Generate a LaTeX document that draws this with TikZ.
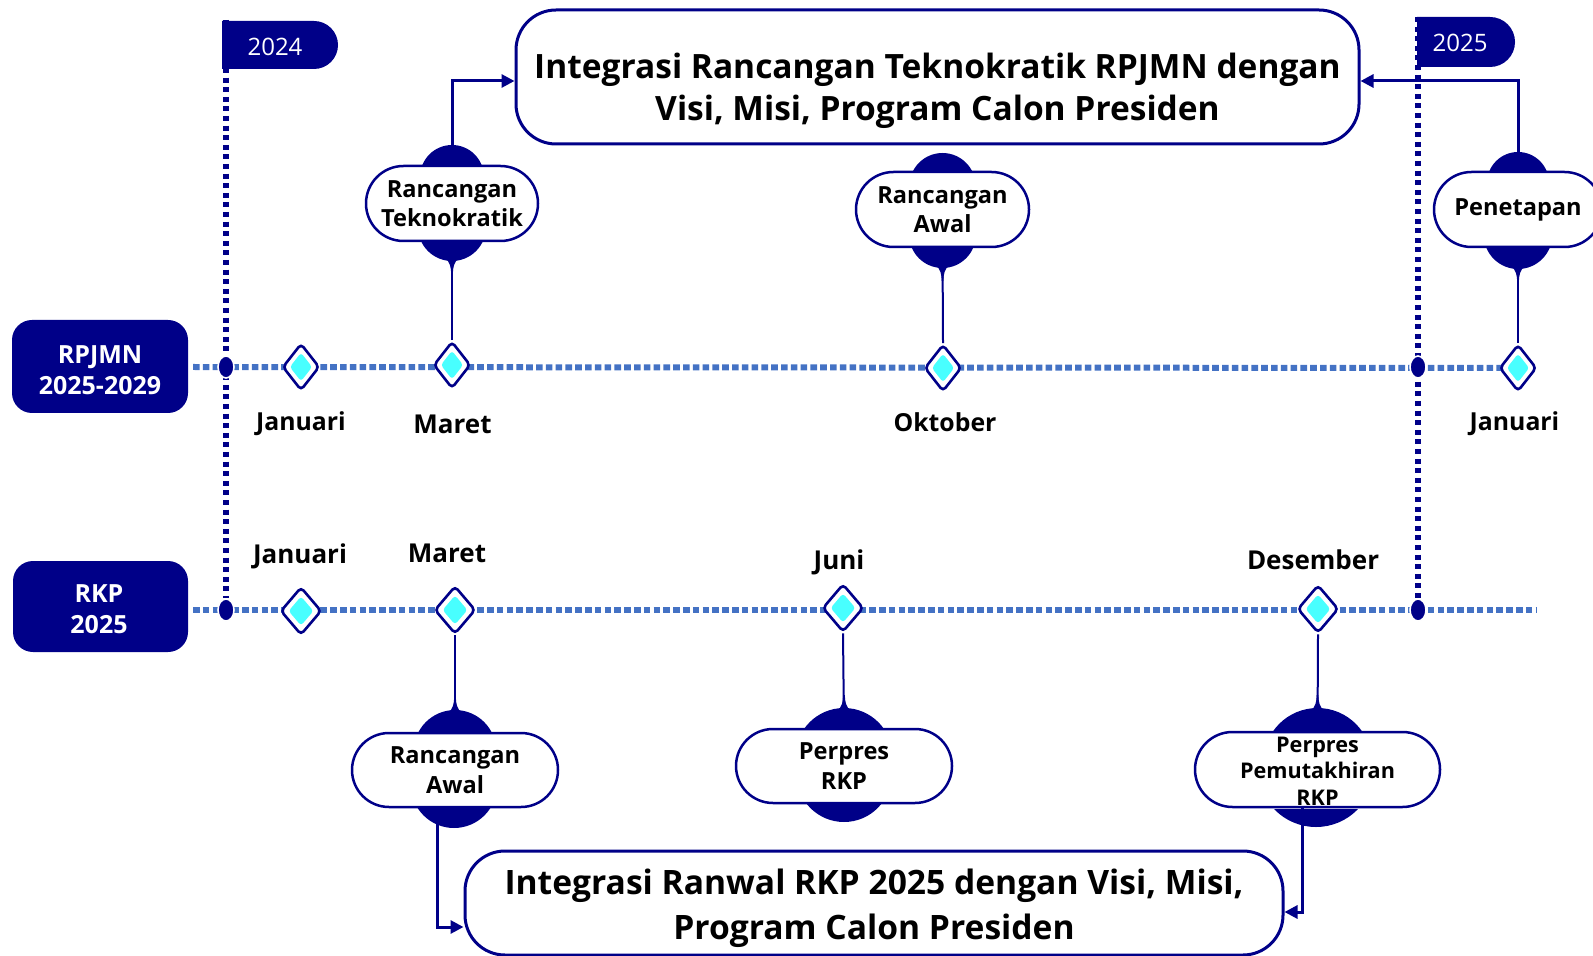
\documentclass[tikz,border=0pt]{standalone}
\usepackage{fontspec}
\setmainfont{Open Sans}
\usetikzlibrary{shapes.misc,shapes.geometric,arrows.meta,calc}
\definecolor{navy}{RGB}{0,0,136}
\definecolor{tl}{RGB}{68,114,196}
\definecolor{cy}{RGB}{72,255,255}
\pgfdeclarelayer{bg}
\pgfsetlayers{bg,main}
\newcommand\ftb{\fontsize{16.75}{21}\selectfont\bfseries}
\newcommand\fbb{\fontsize{16.8}{22.5}\selectfont\bfseries}
\newcommand\fev{\fontsize{11.8}{14.8}\selectfont\bfseries}
\newcommand\fpp{\fontsize{10.8}{13.2}\selectfont\bfseries}
\newcommand\fmon{\fontsize{13}{15}\selectfont\bfseries}
\newcommand\fmonb{\fontsize{12.4}{15}\selectfont\bfseries}
\newcommand\flab{\fontsize{12.5}{15.5}\selectfont\bfseries}
\newcommand\fyr{\fontsize{12}{14}\selectfont}
% cap segment: cx, edge y, half chord, height, dir (-1 up, 1 down)
\newcommand\capseg[5]{%
  \pgfmathsetmacro\capR{((#3)*(#3)+(#4)*(#4))/(2*(#4))}%
  \begin{scope}
    \clip ({#1-(#3)-2},{#2}) rectangle ({#1+(#3)+2},{#2+(#5)*((#4)+2)});
    \fill[navy] ({#1},{#2+(#5)*((#4)-\capR)}) circle[radius=\capR];
  \end{scope}}
% tip: cx, apex y, dir
\newcommand\captip[3]{%
  \fill[navy] ({#1-7},{#2-(#3)*3}) .. controls ({#1-2},{#2+(#3)*1}) and ({#1-1},{#2+(#3)*6}) .. ({#1-0.8},{#2+(#3)*13})
    -- ({#1+0.8},{#2+(#3)*13}) .. controls ({#1+1},{#2+(#3)*6}) and ({#1+2},{#2+(#3)*1}) .. ({#1+7},{#2-(#3)*3}) -- cycle;}
\begin{document}
\begin{tikzpicture}[x=0.5pt,y=-0.5pt,
  big/.style={rectangle, rounded corners=20pt, draw=navy, line width=1.5pt, fill=white, inner sep=0pt},
  lab/.style={rectangle, rounded corners=10pt, fill=navy, inner sep=0pt},
  labt/.style={text=white, font=\flab, align=center, inner sep=0pt},
  flag/.style={rounded rectangle, rounded rectangle west arc=none, fill=navy, inner sep=0pt},
  flagt/.style={text=white, font=\fyr, inner sep=0pt},
  evt/.style={rounded rectangle, draw=navy, line width=1.25pt, fill=white, align=center, font=\fev, inner sep=0pt},
  dm/.style={diamond, draw=navy, line width=1.3pt, fill=white, inner sep=0pt, rounded corners=2pt,
    path picture={\fill[cy, rounded corners=1.5pt]
      ($(path picture bounding box.center)!0.62!(path picture bounding box.north)$) --
      ($(path picture bounding box.center)!0.62!(path picture bounding box.east)$) --
      ($(path picture bounding box.center)!0.62!(path picture bounding box.south)$) --
      ($(path picture bounding box.center)!0.62!(path picture bounding box.west)$) -- cycle;}},
  dmA/.style={dm, minimum width=18.5pt, minimum height=23.5pt},
  dmB/.style={dm, minimum width=20.5pt, minimum height=24pt},
  dot/.style={ellipse, fill=navy, draw=white, line width=0.8pt, minimum width=8pt, minimum height=11pt, inner sep=0pt},
  mon/.style={font=\fmon, anchor=base, inner sep=0pt},
  monb/.style={font=\fmonb, anchor=base, inner sep=0pt},
  vline/.style={navy, line width=3pt, dash pattern=on 2.5pt off 2.3pt},
  tline/.style={tl, line width=3pt, dash pattern=on 3.3pt off 1.6pt},
  stem/.style={navy, line width=1pt},
  arr/.style={navy, line width=1.5pt, -{Triangle[length=6.5pt,width=6.5pt]}}
]
\useasboundingbox (0,0) rectangle (1593,956);

% big boxes
\node[big, minimum width=421.5pt, minimum height=67pt] (TB) at (937.5,77) {};
\node[font=\ftb, align=center, inner sep=0pt] (TBt) at (937.5,91) {Integrasi Rancangan Teknokratik RPJMN dengan\\Visi, Misi, Program Calon Presiden};
\node[big, minimum width=409pt, minimum height=52pt] (BB) at (874,903) {};
\node[font=\fbb, align=center, inner sep=0pt] (BBt) at (874,908) {Integrasi Ranwal RKP 2025 dengan Visi, Misi,\\Program Calon Presiden};

% left labels
\node[lab, minimum width=88pt, minimum height=46.5pt] (RPJMN) at (100,366.5) {};
\node[labt] (RPJMNt) at (100,370) {RPJMN\\2025-2029};
\node[lab, minimum width=87.5pt, minimum height=45.5pt] (RKP) at (100.5,606.5) {};
\node[labt] (RKPt) at (99,609) {RKP\\2025};

% flags
\node[flag, minimum width=58pt, minimum height=24pt] (F24) at (280,45) {};
\node[flagt] (F24t) at (275,47) {2024};
\node[flag, minimum width=49pt, minimum height=25pt] (F25) at (1466,42) {};
\node[flagt] (F25t) at (1460,43) {2025};

% dots
\node[dot] (D24a) at (226,367) {};
\node[dot] (D24b) at (226,610) {};
\node[dot] (D25a) at (1418,367) {};
\node[dot] (D25b) at (1418,610) {};
\coordinate (V24) at (226,20);
\coordinate (V25) at (1418,17);
\coordinate (T1s) at (193,367);
\coordinate (T2s) at (193,610);
\coordinate (T2e) at (1536,610);

% diamonds
\node[dmA] (dJ24) at (301,367) {};
\node[dmA] (dM24) at (452,365) {};
\node[dmA] (dO24) at (943,368) {};
\node[dmA] (dJ25) at (1518,368) {};
\node[dmB] (kJ) at (301,611) {};
\node[dmB] (kM) at (455,610) {};
\node[dmB] (kJu) at (843,608) {};
\node[dmB] (kD) at (1318,609) {};

% month labels
\node[monb] (mJ24) at (301,430) {Januari};
\node[mon] (mM24) at (452.5,434) {Maret};
\node[monb] (mO24) at (945,431) {Oktober};
\node[monb] (mJ25) at (1514.5,430) {Januari};
\node[mon] (nJ) at (300,563) {Januari};
\node[mon] (nM) at (447,562) {Maret};
\node[mon] (nJu) at (839,569) {Juni};
\node[mon] (nD) at (1313,569) {Desember};

% event nodes
\node[evt, minimum width=86pt, minimum height=37.5pt] (RT) at (452,203.5) {Rancangan\\Teknokratik};
\node[evt, minimum width=86.5pt, minimum height=37.5pt] (RA1) at (942.5,209.5) {Rancangan\\Awal};
\node[evt, minimum width=84pt, minimum height=37.5pt] (PN) at (1518,209.5) {Penetapan};
\node[evt, minimum width=103pt, minimum height=37pt] (RA2) at (455,770) {Rancangan\\Awal};
\node[evt, minimum width=108pt, minimum height=37pt] (PR) at (844,766) {Perpres\\RKP};
\node[evt, minimum width=122.5pt, minimum height=37.5pt] (PP) at (1317.5,769.5) {};
\node[font=\fpp, align=center, inner sep=0pt] (PPt) at (1317.5,771) {Perpres\\Pemutakhiran\\RKP};

\begin{pgfonlayer}{bg}
  \draw[tline] (T1s) -- (dJ25.center);
  \draw[tline] (T2s) -- (T2e);
  \draw[vline] (V24) -- (D24b.north);
  \draw[vline] (V25) -- (D25b.north);
  % stems
  \draw[stem] (dM24.north) -- (RT.south);
  \draw[stem] (dO24.north) -- (RA1.south);
  \draw[stem] (dJ25.north) -- (PN.south);
  \draw[stem] (kM.south) -- (RA2.north);
  \draw[stem] (kJu.south) -- (PR.north);
  \draw[stem] (kD.south) -- (PP.north);
  % caps
  \capseg{452}{166}{30}{21}{-1}
  \capseg{452}{241}{31}{20}{1}
  \captip{452}{261}{1}
  \capseg{942.5}{172}{30}{19}{-1}
  \capseg{942.5}{247}{31}{21}{1}
  \captip{942.5}{268}{1}
  \capseg{1518}{172}{29}{20}{-1}
  \capseg{1518}{247}{32}{22}{1}
  \captip{1518}{269}{1}
  \capseg{455}{733}{37}{23}{-1}
  \captip{455}{710}{-1}
  \capseg{454}{807}{37}{21}{1}
  \capseg{844}{729}{40}{21}{-1}
  \captip{844}{708}{-1}
  \capseg{844}{803}{38}{19}{1}
  \capseg{1317.5}{732}{45}{24}{-1}
  \captip{1317.5}{708}{-1}
  \capseg{1316}{809}{42}{18}{1}
  % arrows
  \draw[arr] (RT.north) |- ($(TB.west)+(0,4)$);
  \draw[arr] (PN.north) |- ($(TB.east)+(0,4)$);
  \draw[arr] ($(RA2.south)+(-18,0)$) |- ($(BB.west)+(0,24)$);
  \draw[arr] ($(PP.south)+(-15.5,0)$) |- ($(BB.east)+(0,9)$);
\end{pgfonlayer}
\end{tikzpicture}
\end{document}
